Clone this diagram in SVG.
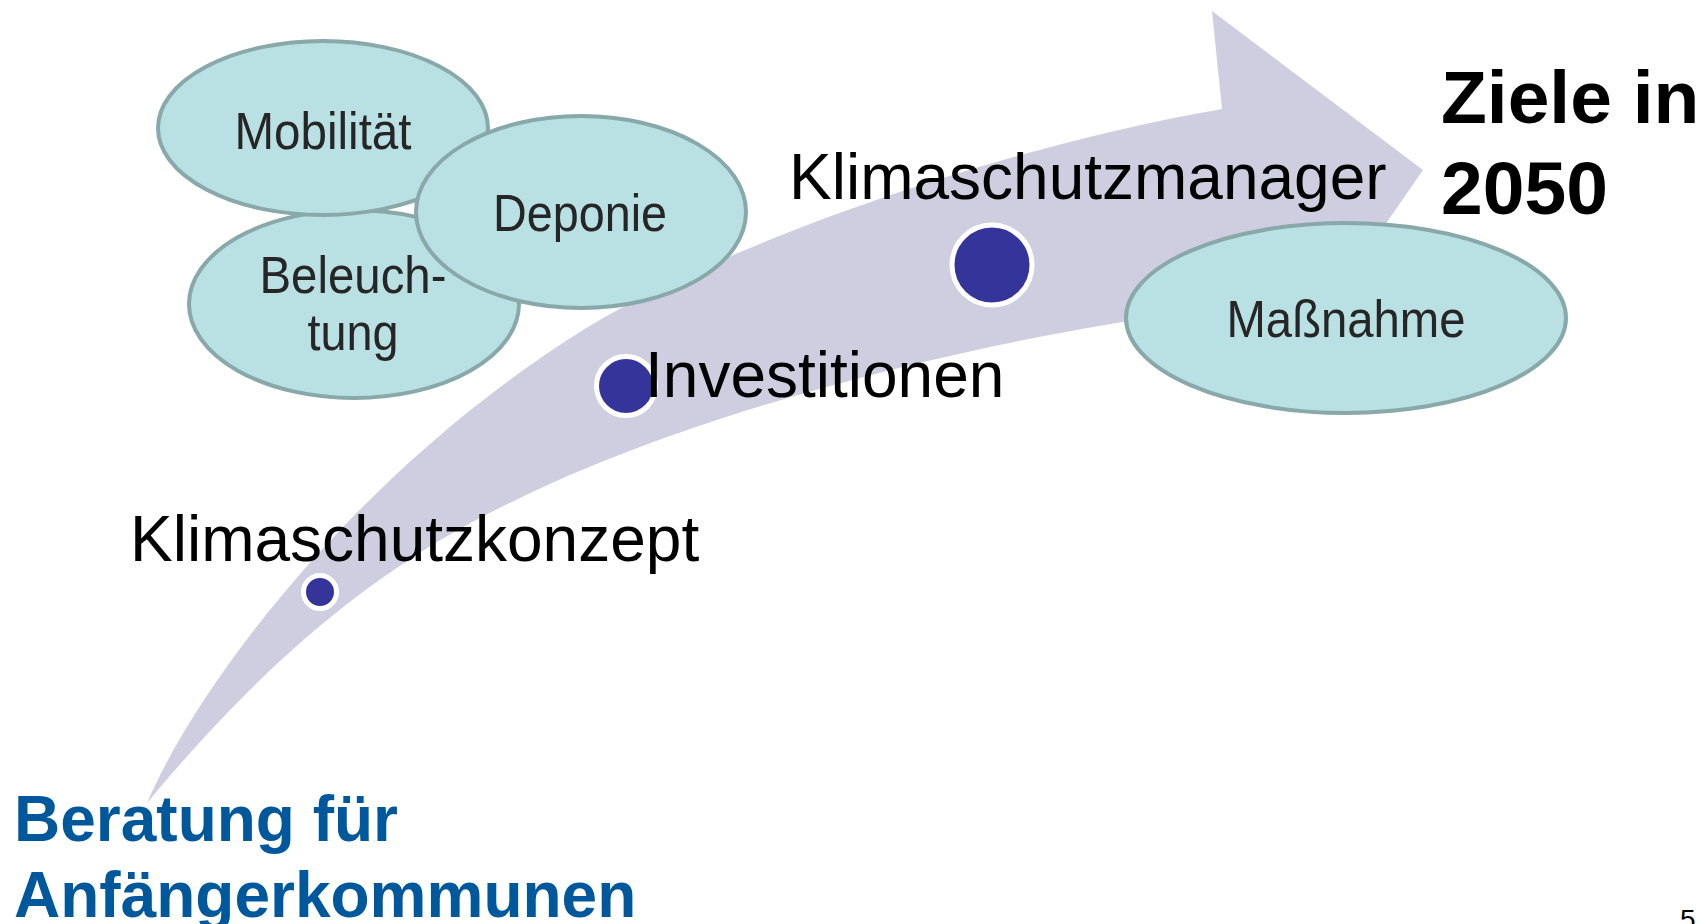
<svg xmlns="http://www.w3.org/2000/svg" width="1702" height="924" viewBox="0 0 1702 924">
<style>
.bubble{fill:#b9e0e3;stroke:#88a8a9;stroke-width:4}
.btxt{font-family:"Liberation Sans",Arial,sans-serif;font-size:52px;fill:#262626;text-anchor:middle}
.step{font-family:"Liberation Sans",Arial,sans-serif;font-size:64px;fill:#000}
.dot{fill:#35349a;stroke:#fff;stroke-width:5}
.goal{font-family:"Liberation Sans",Arial,sans-serif;font-size:75px;font-weight:bold;fill:#000}
.start{font-family:"Liberation Sans",Arial,sans-serif;font-size:64px;font-weight:bold;fill:#00589c}
</style>
<rect width="1702" height="924" fill="#fff"/>
<g id="arrow">
<path fill="#cfcee0" d="M147,803 C200,680 360,470 580,332 C690,262 960,155 1222,109 L1212,11 L1423,170 L1340,290 L1290,300 L1123,322 C950,350 700,410 516,500 C410,550 290,630 147,803 Z"/>
</g>
<g id="node-beleuchtung">
<ellipse class="bubble" cx="354" cy="304" rx="165" ry="94"/>
<text class="btxt" x="353" y="293" textLength="187" lengthAdjust="spacingAndGlyphs">Beleuch-</text>
<text class="btxt" x="353" y="350" textLength="91" lengthAdjust="spacingAndGlyphs">tung</text>
</g>
<g id="node-mobilitaet">
<ellipse class="bubble" cx="323" cy="128" rx="165" ry="87"/>
<text class="btxt" x="323" y="149" textLength="177" lengthAdjust="spacingAndGlyphs">Mobilität</text>
</g>
<g id="node-deponie">
<ellipse class="bubble" cx="581" cy="212" rx="165" ry="96"/>
<text class="btxt" x="580" y="231" textLength="174" lengthAdjust="spacingAndGlyphs">Deponie</text>
</g>
<g id="node-massnahme">
<ellipse class="bubble" cx="1346" cy="318" rx="220" ry="95"/>
<text class="btxt" x="1346" y="337" textLength="239" lengthAdjust="spacingAndGlyphs">Maßnahme</text>
</g>
<g id="node-klimaschutzkonzept">
<circle class="dot" cx="320" cy="592" r="16.5"/>
<text class="step" x="130" y="561">Klimaschutzkonzept</text>
</g>
<g id="node-investitionen">
<circle class="dot" cx="626" cy="386" r="29.5"/>
<text class="step" x="645" y="397">Investitionen</text>
</g>
<g id="node-klimaschutzmanager">
<circle class="dot" cx="992" cy="265" r="40"/>
<text class="step" x="789" y="199">Klimaschutzmanager</text>
</g>
<g id="node-ziele">
<text class="goal" x="1441" y="123">Ziele in</text>
<text class="goal" x="1441" y="214">2050</text>
</g>
<g id="node-beratung">
<text class="start" x="14" y="841">Beratung für</text>
<text class="start" x="14" y="917">Anfängerkommunen</text>
</g>
<text x="1680" y="929" font-family="Liberation Sans, Arial, sans-serif" font-size="28" fill="#000">5</text>
</svg>
